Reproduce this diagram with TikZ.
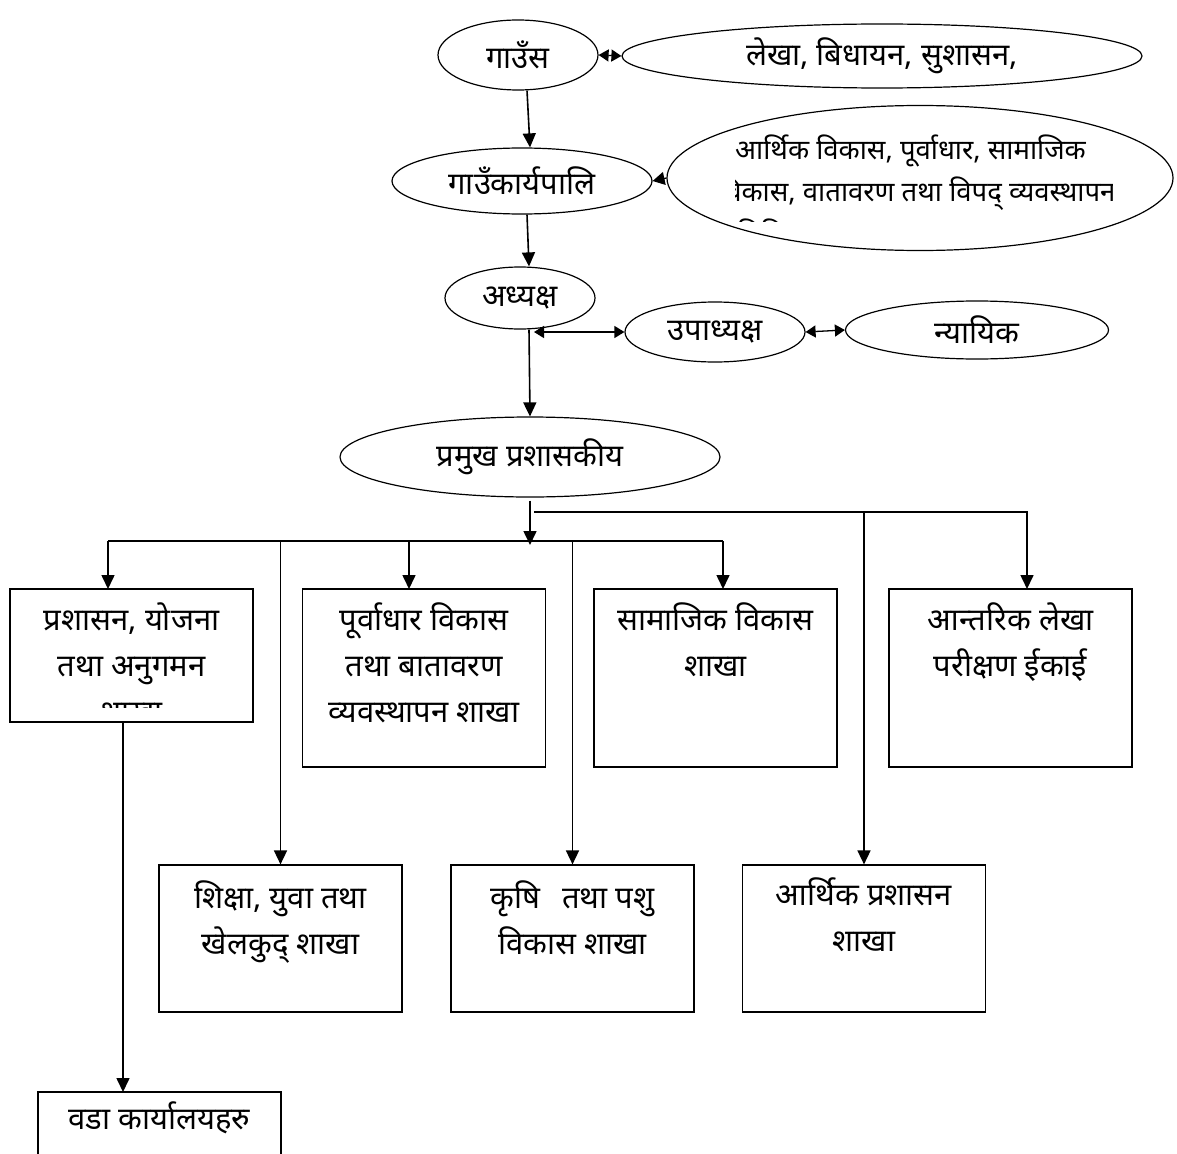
\documentclass[tikz,border=0pt]{standalone}
\usepackage{fontspec}
\setmainfont{Noto Sans}[Script=Devanagari]
\usepackage{tikz}
\usetikzlibrary{shapes.geometric, arrows.meta, positioning}

\newcommand{\chartfont}{\fontsize{31}{46}\selectfont}
\newcommand{\notefont}{\fontsize{27.5}{42}\selectfont}

\tikzset{
    oval/.style={draw, ellipse, line width=1.2pt, inner sep=0pt, font=\chartfont},
    branch/.style={draw, rectangle, line width=1.2pt, minimum width=243pt, inner sep=0pt},
    lbl/.style={align=center, inner sep=0pt, font=\chartfont},
    arr/.style={-{Triangle[length=14pt, width=13pt]}, line width=1.6pt},
    both/.style={{Triangle[length=10pt, width=12pt]}-{Triangle[length=10pt, width=12pt]}, line width=1.3pt},
    bar/.style={line width=1.3pt}
}

\begin{document}
\begin{tikzpicture}[x=1pt, y=-1pt]
        \useasboundingbox (0,0) rectangle (1177,1153);

        % Top of the chart
        \node[oval, minimum width=160pt, minimum height=70pt] (gaunsabha) at (518,55) {गाउँस};
        \node[oval, minimum width=520pt, minimum height=64pt] (lekha) at (882,56) {लेखा, बिधायन, सुशासन,};
        \node[oval, minimum width=260pt, minimum height=66pt] (karyapalika) at (522,181) {गाउँकार्यपालि};
        \node[oval, minimum width=506pt, minimum height=145pt] (samiti) at (920,178) {};
        \begin{scope}
            \clip (735,128) rectangle (1112,221);
            \node[lbl, font=\notefont, align=left, anchor=north west] (samiti-t) at (735,135)
                {आर्थिक विकास, पूर्वाधार, सामाजिक\\\hspace*{-16pt}विकास, वातावरण तथा विपद् व्यवस्थापन\\\hspace*{-16pt}समिति};
        \end{scope}
        \node[oval, minimum width=150pt, minimum height=62pt] (adhyaksha) at (520,298) {अध्यक्ष};
        \node[oval, minimum width=180pt, minimum height=60pt] (upadhyaksha) at (715,332) {उपाध्यक्ष};
        \node[oval, minimum width=263pt, minimum height=58pt] (nyayik) at (977,330) {न्यायिक};
        \node[oval, minimum width=380pt, minimum height=80pt] (cao) at (530,457) {प्रमुख प्रशासकीय};

        \draw[arr] ([xshift=9pt]gaunsabha.south) -- ([xshift=8pt]karyapalika.north);
        \draw[arr] ([xshift=5pt]karyapalika.south) -- ([xshift=9pt]adhyaksha.north);
        \draw[arr] ([xshift=9pt]adhyaksha.south) -- (cao.north);
        \draw[both] (gaunsabha.east) -- (lekha.west);
        \draw[-{Triangle[length=12pt, width=13pt]}, line width=1.3pt] (samiti.west) -- (karyapalika.east);
        \draw[both] (upadhyaksha.east) -- (nyayik.west);
        \coordinate (adj) at (534,332);
        \draw[both] (adj) -- (upadhyaksha.west);

        % Branches
        \node[branch, minimum height=133pt] (prashasan) at (131.5,655.5) {};
        \node[branch, minimum height=178pt] (purwadhar) at (424,678) {};
        \node[branch, minimum height=178pt] (samajik) at (715.5,678) {};
        \node[branch, minimum height=178pt] (antarik) at (1010.5,678) {};
        \node[branch, minimum height=147pt] (shiksha) at (280.5,938.5) {};
        \node[branch, minimum height=147pt] (krishi) at (572.5,938.5) {};
        \node[branch, minimum height=147pt] (arthik) at (864,938.5) {};
        \node[branch, minimum height=100pt] (wada) at (159.5,1142) {};

        \begin{scope}
            \clip (prashasan.north west) rectangle ([yshift=15pt]prashasan.south east);
            \node[lbl, below=14pt of prashasan.north] (prashasan-t) {प्रशासन, योजना\\तथा अनुगमन\\शाखा};
        \end{scope}
        \node[lbl, below=14pt of purwadhar.north] (purwadhar-t) {पूर्वाधार विकास\\तथा बातावरण\\व्यवस्थापन शाखा};
        \node[lbl, below=14pt of samajik.north] (samajik-t) {सामाजिक विकास\\शाखा};
        \node[lbl, below=14pt of antarik.north] (antarik-t) {आन्तरिक लेखा\\परीक्षण ईकाई};
        \node[lbl, below=16pt of shiksha.north] (shiksha-t) {शिक्षा, युवा तथा\\खेलकुद् शाखा};
        \node[lbl, below=16pt of krishi.north] (krishi-t) {कृषि\hspace{0.7em}तथा पशु\\विकास शाखा};
        \node[lbl, below=13pt of arthik.north] (arthik-t) {आर्थिक प्रशासन\\शाखा};
        \node[lbl, below=10pt of wada.north] (wada-t) {वडा कार्यालयहरु};

        % Connectors to the branches
        \coordinate (split) at (530,541);
        \coordinate (upper) at (534,512);
        \coordinate (lower-l) at (108,541);
        \coordinate (lower-r) at (723,541);
        \coordinate (prashasan-in) at (108,589);
        \coordinate (purwadhar-in) at (409,589);
        \coordinate (samajik-in) at (723,589);
        \coordinate (antarik-in) at (1027,589);
        \coordinate (wada-out) at (123,722);
        \coordinate (wada-in) at (123,1092);

        \draw[arr] ([yshift=-3pt]cao.south) -- ([yshift=-4pt]split);
        \draw[bar] (lower-l) -- (lower-r);
        \draw[arr] (upper) -| (antarik-in);
        \draw[arr] (upper -| arthik.north) -- (arthik.north);
        \foreach \tap in {prashasan-in, purwadhar-in, samajik-in} {
            \draw[arr] (\tap |- split) -- (\tap);
        }
        \foreach \b in {shiksha, krishi} {
            \draw[arr] (\b.north |- split) -- (\b.north);
        }
        \draw[arr] (wada-out) -- (wada-in);

    \end{tikzpicture}
\end{document}
